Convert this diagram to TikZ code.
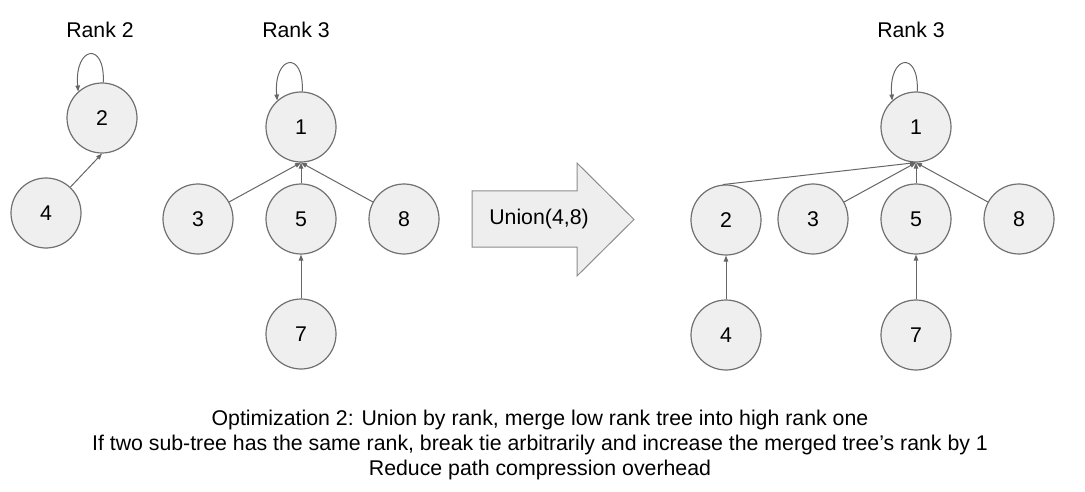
\documentclass[tikz,border=0pt]{standalone}
\usepackage{fontspec}
\setmainfont{Liberation Sans}
\usetikzlibrary{arrows.meta}

\definecolor{nodeline}{HTML}{707070}
\definecolor{nodefill}{HTML}{EFEFEF}
\definecolor{edgecol}{HTML}{666666}
\definecolor{bigline}{HTML}{8C8C8C}
\definecolor{bigfill}{HTML}{EEEEEE}

\begin{document}
\begin{tikzpicture}[x=1pt,y=-1pt,
  every node/.style={font=\fontsize{21.3}{25}\selectfont, text=black},
  vert/.style={circle, draw=nodeline, fill=nodefill, line width=1.2pt,
               minimum size=70pt, inner sep=0pt},
  link/.style={draw=edgecol, line width=1pt,
               -{Triangle[length=6pt,width=4.5pt]}},
  label/.style={anchor=base, inner sep=0pt},
  selfloop/.style={link}
]
\path[use as bounding box] (0,0) rectangle (1085,492);

% headings
\node[label] (h1) at (100,38) {Rank 2};
\node[label] (h2) at (296,38) {Rank 3};
\node[label] (h3) at (911,38) {Rank 3};

% tree of rank 2
\node[vert] (a2) at (102,118) {2};
\node[vert] (a4) at (46,213) {4};
\draw[link] (a4) -- (a2.south);
\draw[selfloop] (a2.88) .. controls +(2,-42) and +(-4,-45) .. (a2.132);

% tree of rank 3
\node[vert] (b1) at (301,127) {1};
\node[vert] (b3) at (198,219) {3};
\node[vert] (b5) at (301,219) {5};
\node[vert] (b8) at (404,219) {8};
\node[vert] (b7) at (301,334) {7};
\draw[link] (b3) -- (b1.south);
\draw[link] (b5.north) -- (b1.south);
\draw[link] (b8) -- (b1.south);
\draw[link] (b7.north) -- (b5.south);
\draw[selfloop] (b1.88) .. controls +(2,-42) and +(-4,-45) .. (b1.132);

% the union operation
\filldraw[draw=bigline, fill=bigfill, line width=1pt]
  (472,191) -- (577,191) -- (577,163) -- (634,219.5) -- (577,276)
  -- (577,247) -- (472,247) -- cycle;
\node (op) at (539,219) {Union(4,8)};

% merged tree
\node[vert] (c1) at (916,127) {1};
\node[vert] (c2) at (726,220) {2};
\node[vert] (c3) at (813,219) {3};
\node[vert] (c5) at (916,219) {5};
\node[vert] (c8) at (1019,219) {8};
\node[vert] (c4) at (726,335) {4};
\node[vert] (c7) at (916,335) {7};
\draw[link] (c2.95) -- (c1.south);
\draw[link] (c3) -- (c1.south);
\draw[link] (c5.north) -- (c1.south);
\draw[link] (c8) -- (c1.south);
\draw[link] (c4.north) -- (c2.south);
\draw[link] (c7.north) -- (c5.south);
\draw[selfloop] (c1.88) .. controls +(2,-42) and +(-4,-45) .. (c1.132);

% notes
\node[label] (t1) at (540,425) {Optimization 2: Union by rank, merge low rank tree into high rank one};
\node[label] (t2) at (540,450) {If two sub-tree has the same rank, break tie arbitrarily and increase the merged tree’s rank by 1};
\node[label] (t3) at (540,475) {Reduce path compression overhead};
\end{tikzpicture}
\end{document}
